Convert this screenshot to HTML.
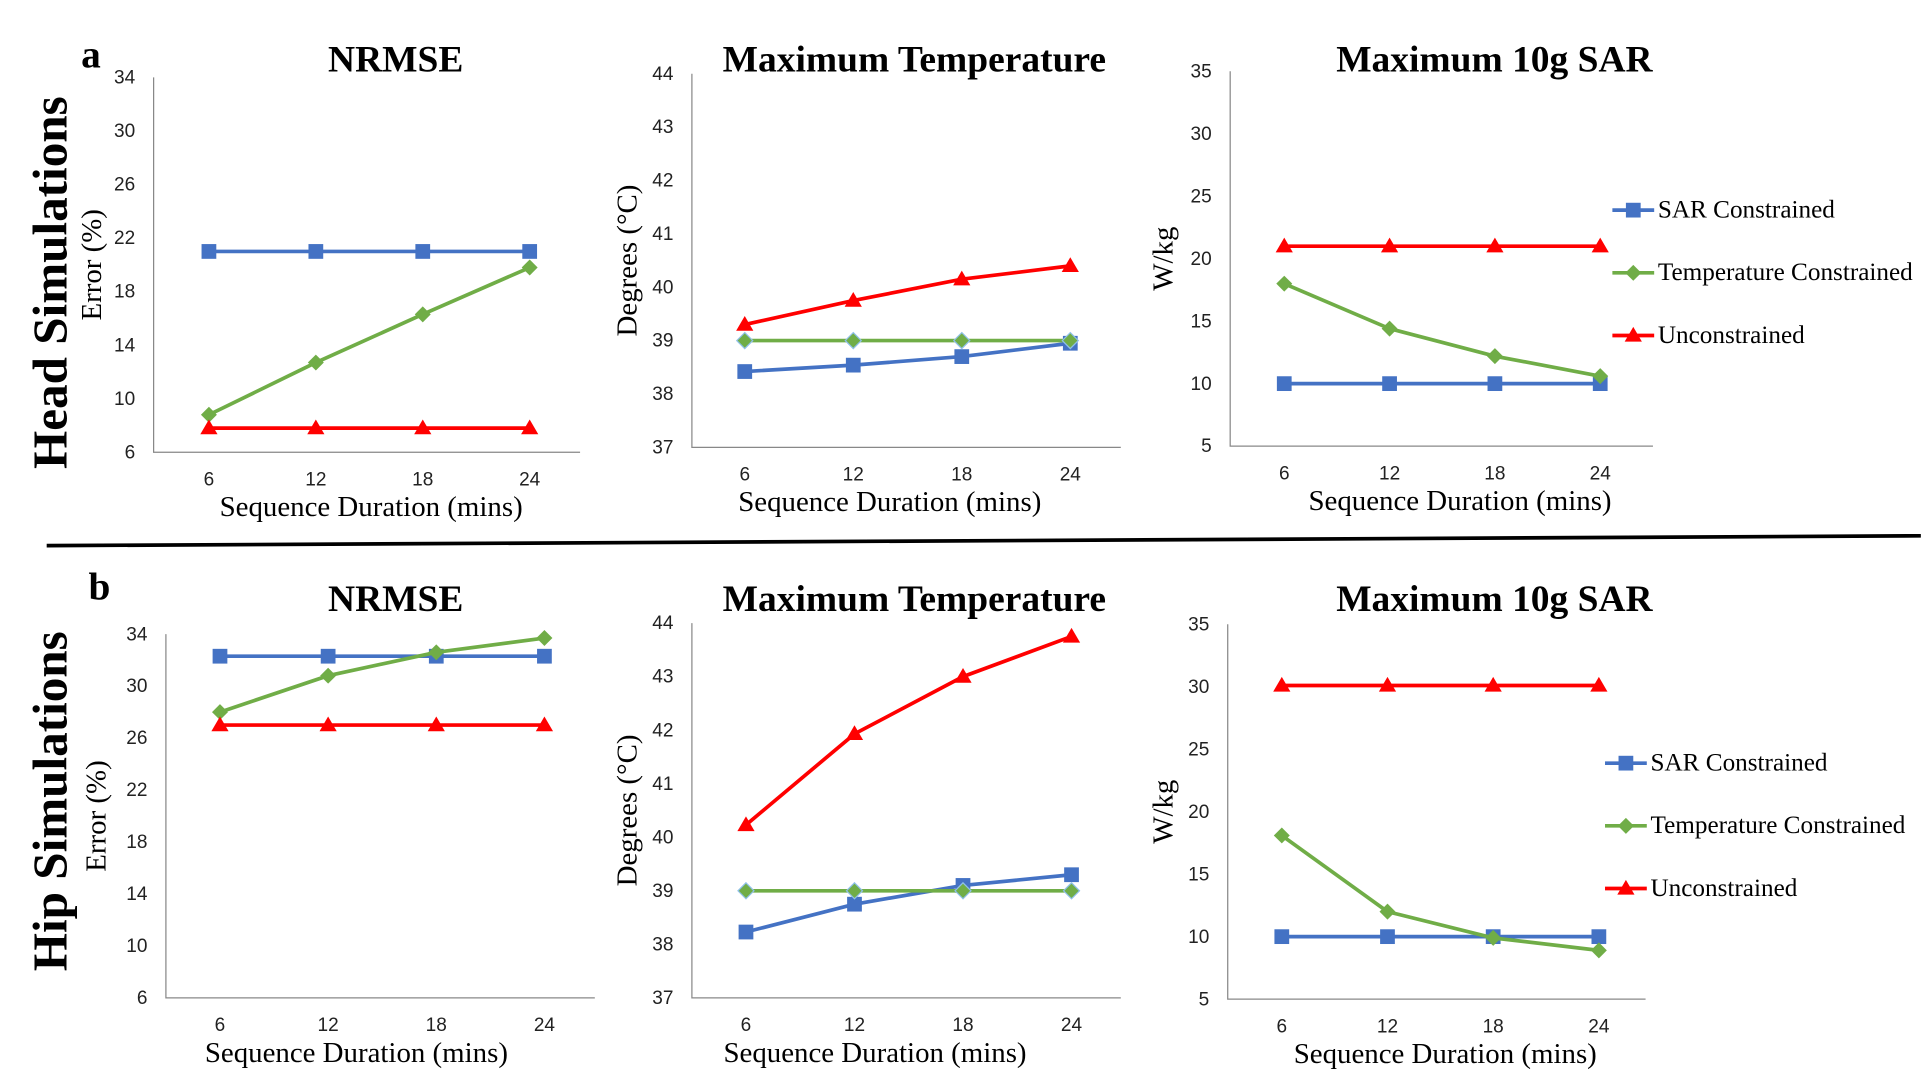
<!DOCTYPE html>
<html><head><meta charset="utf-8"><style>
html,body{margin:0;padding:0;background:#fff;overflow:hidden}
svg{display:block}
.tick{font-family:"Liberation Sans Narrow","Liberation Sans",sans-serif;font-size:15.5px;fill:#222}
.title{font-family:"Liberation Serif",serif;font-weight:bold;font-size:30.5px;fill:#000}
.axt{font-family:"Liberation Serif",serif;font-size:23.5px;fill:#000}
.leg{font-family:"Liberation Serif",serif;font-size:20.5px;fill:#000}
.big{font-family:"Liberation Serif",serif;font-weight:bold;fill:#000}
</style></head><body>
<svg id="fig" width="1927" height="1086" viewBox="0 0 1568 883.7" preserveAspectRatio="none" xmlns="http://www.w3.org/2000/svg">
<text class="big" x="66" y="55" font-size="32">a</text>
<text class="big" x="72" y="488" font-size="32">b</text>
<text class="big" font-size="40" transform="translate(54,230) rotate(-90)" text-anchor="middle">Head Simulations</text>
<text class="big" font-size="40" transform="translate(54,652) rotate(-90)" text-anchor="middle">Hip Simulations</text>
<line x1="38" y1="444" x2="1563" y2="436" stroke="#000" stroke-width="3"/>
<g id="charts"></g>
</svg>
<script>
const categories = [6, 12, 18, 24];
// Head row
const headNrmseSar = [21, 21, 21, 21];
const headNrmseTemp = [8.8, 12.7, 16.3, 19.8];
const headNrmseUnc = [7.8, 7.8, 7.8, 7.8];
const headTempSar = [38.42, 38.54, 38.7, 38.95];
const headTempTemp = [39, 39, 39, 39];
const headTempUnc = [39.3, 39.75, 40.15, 40.4];
const headSarSar = [10, 10, 10, 10];
const headSarTemp = [18, 14.4, 12.2, 10.6];
const headSarUnc = [21, 21, 21, 21];
// Hip row
const hipNrmseSar = [32.3, 32.3, 32.3, 32.3];
const hipNrmseTemp = [28, 30.8, 32.6, 33.7];
const hipNrmseUnc = [27, 27, 27, 27];
const hipTempSar = [38.23, 38.75, 39.1, 39.3];
const hipTempTemp = [39, 39, 39, 39];
const hipTempUnc = [40.23, 41.93, 43.0, 43.75];
const hipSarSar = [10, 10, 10, 10];
const hipSarTemp = [18.1, 12, 9.9, 8.9];
const hipSarUnc = [30.1, 30.1, 30.1, 30.1];
// Tick labels
const nrmseTicks = [6, 10, 14, 18, 22, 26, 30, 34];
const tempTicks = [37, 38, 39, 40, 41, 42, 43, 44];
const sarTicks = [5, 10, 15, 20, 25, 30, 35];
const seriesNames = ["SAR Constrained", "Temperature Constrained", "Unconstrained"];

const NS = "http://www.w3.org/2000/svg";
const root = document.getElementById("charts");
function mk(tag, attrs, parent) {
  const e = document.createElementNS(NS, tag);
  for (const k in attrs) e.setAttribute(k, attrs[k]);
  parent.appendChild(e);
  return e;
}
const COL = ["#4472C4", "#70AD47", "#FF0000"];

function marker(g, type, x, y, color, outline) {
  let m;
  if (type === 0) m = mk("rect", {x: x-6, y: y-6, width: 12, height: 12, fill: color}, g);
  else if (type === 1) m = mk("polygon", {points: `${x},${y-6.5} ${x+6.5},${y} ${x},${y+6.5} ${x-6.5},${y}`, fill: color, stroke: outline || "none", "stroke-width": 1}, g);
  else m = mk("polygon", {points: `${x},${y-7} ${x+7},${y+5} ${x-7},${y+5}`, fill: color}, g);
  return m;
}

function chart(cfg) {
  const g = mk("g", {}, root);
  
  
  const {x0, x1, yTop, yBot, ticks, cats} = cfg;
  const vmin = ticks[0], vmax = ticks[ticks.length-1];
  const ys = v => yBot - (v - vmin) / (vmax - vmin) * (yBot - yTop);
  const xs = i => cats[0] + i * (cats[1] - cats[0]);
  const ax = mk("path", {d: `M${x0},${yTop} V${yBot} H${x1}`, stroke: "#888", "stroke-width": 1, fill: "none"}, g);
  
  
  ticks.forEach(t => {
    const tx = mk("text", {x: x0 - 15, y: ys(t) + 5, "text-anchor": "end", class: "tick"}, g);
    
    
    tx.textContent = t;
  });
  categories.forEach((c, i) => {
    const tx = mk("text", {x: xs(i), y: yBot + 27, "text-anchor": "middle", class: "tick"}, g);
    
    
    tx.textContent = c;
  });
  const tt = mk("text", {x: cfg.titleX, y: cfg.titleY, "text-anchor": "middle", class: "title"}, g);
  
  
  tt.textContent = cfg.title;
  const xt = mk("text", {x: cfg.xtX, y: yBot + 52, "text-anchor": "middle", class: "axt"}, g);
  
  
  xt.textContent = "Sequence Duration (mins)";
  const yt = mk("text", {transform: `translate(${cfg.ytX},${(yTop + yBot) / 2}) rotate(-90)`, "text-anchor": "middle", class: "axt"}, g);
  
  
  yt.textContent = cfg.ylabel;
  cfg.series.forEach((s, si) => {
    const sg = mk("g", {}, g);
    
    
    const pts = s.map((v, i) => `${xs(i)},${ys(v)}`).join(" ");
    const pl = mk("polyline", {points: pts, fill: "none", stroke: COL[si], "stroke-width": 3}, sg);
    
    
    s.forEach((v, i) => {
      const m = marker(sg, si, xs(i), ys(v), COL[si], cfg.diamondOutline);
      
      
    });
  });
  if (cfg.legend) {
    const lg = mk("g", {}, g);
    
    
    seriesNames.forEach((n, i) => {
      const y = cfg.legend.y + i * 51;
      const eg = mk("g", {}, lg);
      
      
      mk("line", {x1: cfg.legend.x, y1: y, x2: cfg.legend.x + 34, y2: y, stroke: COL[i], "stroke-width": 3}, eg);
      marker(eg, i, cfg.legend.x + 17, y, COL[i]);
      const t = mk("text", {x: cfg.legend.x + 37, y: y + 6, class: "leg"}, eg);
      t.textContent = n;
    });
  }
}

chart({name: "head-nrmse-chart", x0: 125, x1: 472, yTop: 63, yBot: 368, ticks: nrmseTicks, cats: [170, 257],
  title: "NRMSE", titleX: 322, titleY: 58, xtX: 302, ytX: 82, ylabel: "Error (%)",
  series: [headNrmseSar, headNrmseTemp, headNrmseUnc]});
chart({name: "head-temperature-chart", x0: 563, x1: 912, yTop: 60, yBot: 364, ticks: tempTicks, cats: [606, 694.3],
  title: "Maximum Temperature", titleX: 744, titleY: 58, xtX: 724, ytX: 518, ylabel: "Degrees (°C)", diamondOutline: "#8fc0e8",
  series: [headTempSar, headTempTemp, headTempUnc]});
chart({name: "head-sar-chart", x0: 1001, x1: 1345, yTop: 58, yBot: 363, ticks: sarTicks, cats: [1045, 1130.7],
  title: "Maximum 10g SAR", titleX: 1216, titleY: 58, xtX: 1188, ytX: 954, ylabel: "W/kg",
  series: [headSarSar, headSarTemp, headSarUnc], legend: {x: 1312, y: 171}});
chart({name: "hip-nrmse-chart", x0: 135, x1: 484, yTop: 516, yBot: 812, ticks: nrmseTicks, cats: [179, 267],
  title: "NRMSE", titleX: 322, titleY: 497, xtX: 290, ytX: 86, ylabel: "Error (%)",
  series: [hipNrmseSar, hipNrmseTemp, hipNrmseUnc]});
chart({name: "hip-temperature-chart", x0: 563, x1: 912, yTop: 507, yBot: 812, ticks: tempTicks, cats: [607, 695.3],
  title: "Maximum Temperature", titleX: 744, titleY: 497, xtX: 712, ytX: 518, ylabel: "Degrees (°C)", diamondOutline: "#8fc0e8",
  series: [hipTempSar, hipTempTemp, hipTempUnc]});
chart({name: "hip-sar-chart", x0: 999, x1: 1339, yTop: 508, yBot: 813, ticks: sarTicks, cats: [1043, 1129],
  title: "Maximum 10g SAR", titleX: 1216, titleY: 497, xtX: 1176, ytX: 954, ylabel: "W/kg",
  series: [hipSarSar, hipSarTemp, hipSarUnc], legend: {x: 1306, y: 621}});
</script>
</body></html>
